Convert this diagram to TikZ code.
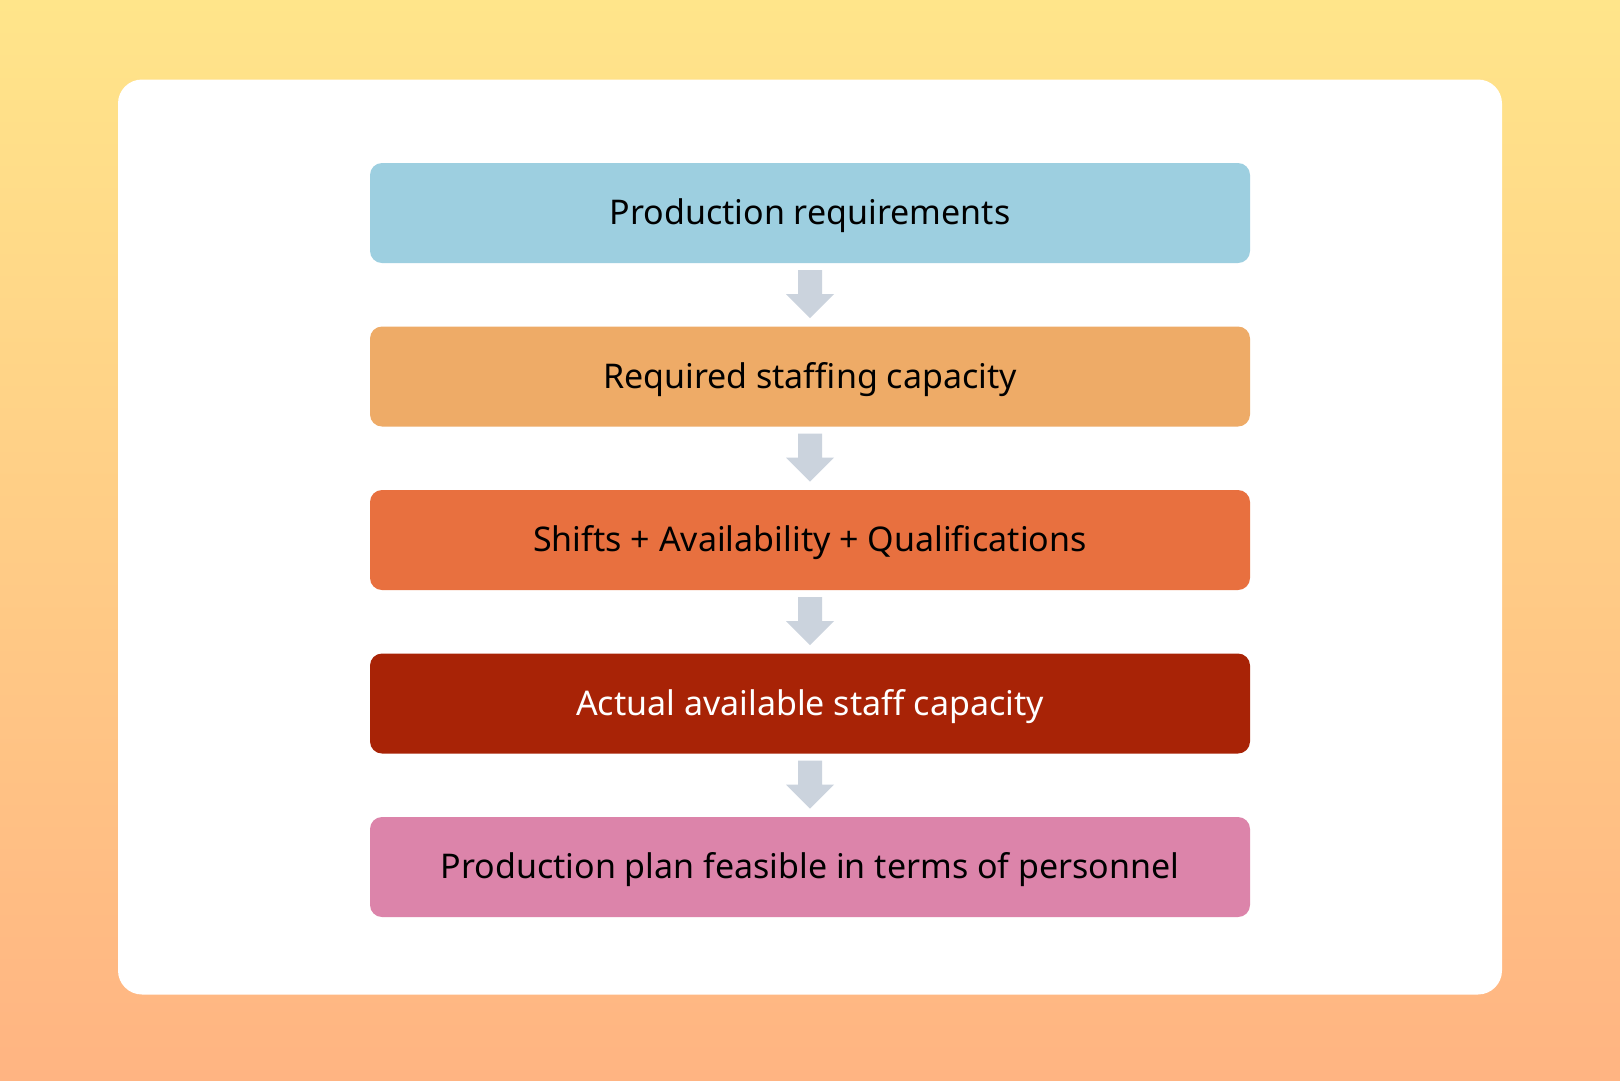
\documentclass[tikz,border=0pt]{standalone}
\usepackage{fontspec}
\setmainfont{Noto Sans}
\begin{document}
\begin{tikzpicture}[x=1pt,y=-1pt,
  stepbox/.style={rounded corners=12pt,minimum width=880pt,minimum height=100pt,inner sep=0pt,draw=none},
  steplabel/.style={font=\fontsize{34}{40}\selectfont,anchor=base,inner sep=0pt},
  flowarrow/.style={fill=arrowgray,draw=none}]
\definecolor{bgtop}{RGB}{255,229,138}
\definecolor{bgbot}{RGB}{255,180,130}
\definecolor{cblue}{RGB}{157,207,224}
\definecolor{clorange}{RGB}{238,171,103}
\definecolor{corange}{RGB}{232,112,63}
\definecolor{cdred}{RGB}{168,35,6}
\definecolor{cpink}{RGB}{220,132,170}
\definecolor{arrowgray}{RGB}{203,211,221}
\useasboundingbox (0,0) rectangle (1620,1080);
\shade[top color=bgtop,bottom color=bgbot] (0,0) rectangle (1620,1080);
\fill[white,rounded corners=24pt] (118,79.5) rectangle (1502,994.5);
\foreach \i/\c/\t/\tc in {1/cblue/Production requirements/black,
  2/clorange/Required staffing capacity/black,
  3/corange/Shifts + Availability + Qualifications/black,
  4/cdred/Actual available staff capacity/white,
  5/cpink/Production plan feasible in terms of personnel/black}{
  \pgfmathsetmacro{\yc}{213+163.5*(\i-1)}
  \node[stepbox,fill=\c] (b\i) at (810,\yc) {};
  \node[steplabel,text=\tc] (t\i) at (810,\yc+11.5) {\t};
}
\foreach \i/\j in {1/2,2/3,3/4,4/5}{
  \path (b\i.south) ++(0,7) coordinate (a\i);
  \fill[flowarrow] (a\i) ++(-12,0) -- ++(24,0) -- ++(0,24) -- ++(12,0) -- ++(-24,24) -- ++(-24,-24) -- ++(12,0) -- cycle;
}
\end{tikzpicture}
\end{document}
